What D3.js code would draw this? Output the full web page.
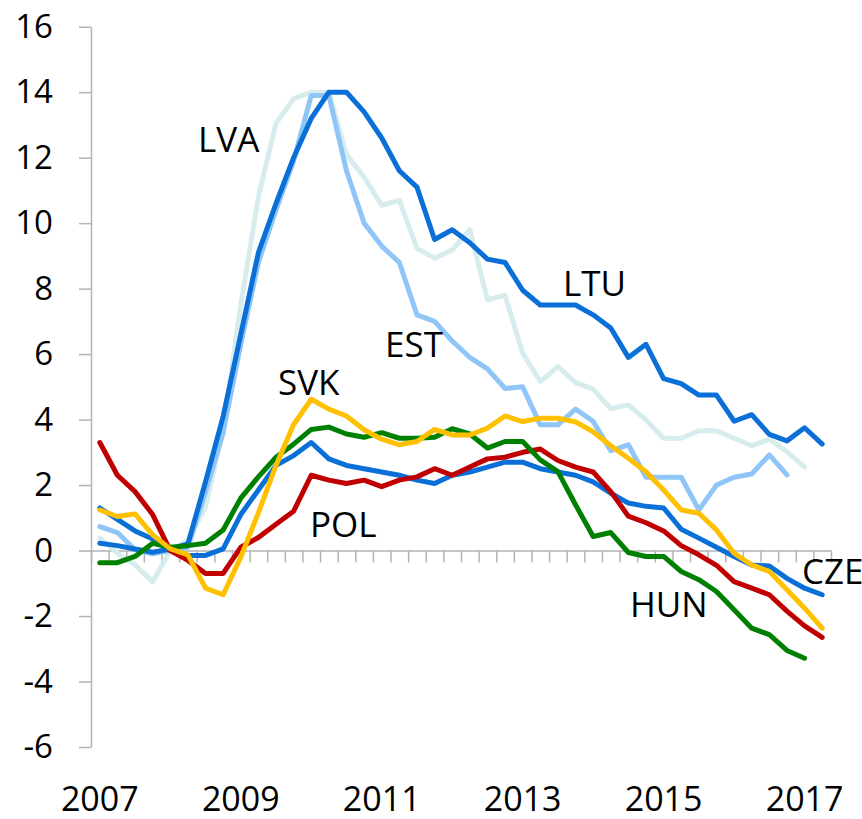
<!DOCTYPE html>
<html>
<head>
<meta charset="utf-8">
<script src="https://cdn.jsdelivr.net/npm/d3@7"></script>
<style>
  html, body { margin: 0; padding: 0; background: #ffffff; }
  svg { display: block; }
  text { font-family: "Open Sans", "Noto Sans", sans-serif; fill: #000; }
</style>
</head>
<body>
<svg id="chart" width="862" height="819"></svg>
<script>
// ---- data ----
const years = [2007, 2008, 2009, 2010, 2011, 2012, 2013, 2014, 2015, 2016, 2017];
const quarters = [];
years.forEach(y => ["Q1", "Q2", "Q3", "Q4"].forEach(q => quarters.push(y + q)));
quarters.length = 42; // 2007Q1 .. 2017Q2

const xTickLabels = ["2007", "2009", "2011", "2013", "2015", "2017"];
const yTicks = [-6, -4, -2, 0, 2, 4, 6, 8, 10, 12, 14, 16];

const LVA = [0.38, -0.08, -0.44, -0.95, 0.0, 0.3, 1.34, 3.7, 7.5, 10.8, 13.05, 13.8, 14.0, 14.0, 12.1, 11.4, 10.55, 10.7, 9.23, 8.93, 9.18, 9.8, 7.66, 7.8, 6.03, 5.16, 5.62, 5.13, 4.93, 4.33, 4.45, 3.99, 3.43, 3.43, 3.66, 3.66, 3.43, 3.2, 3.4, 3.02, 2.55, null];
const EST = [0.73, 0.55, 0.02, -0.1, 0.0, 0.1, 1.8, 3.6, 6.3, 8.8, 10.4, 11.9, 13.9, 13.9, 11.6, 10.0, 9.3, 8.8, 7.2, 7.0, 6.4, 5.9, 5.55, 4.95, 5.0, 3.84, 3.84, 4.32, 3.95, 3.05, 3.23, 2.24, 2.24, 2.24, 1.24, 2.0, 2.24, 2.34, 2.92, 2.31, null, null];
const LTU = [0.22, 0.15, 0.05, -0.05, 0.05, 0.2, 2.1, 4.1, 6.6, 9.1, 10.6, 12.0, 13.2, 14.0, 14.0, 13.4, 12.6, 11.6, 11.1, 9.5, 9.8, 9.4, 8.9, 8.8, 7.95, 7.5, 7.5, 7.5, 7.2, 6.8, 5.9, 6.3, 5.25, 5.1, 4.75, 4.75, 3.95, 4.15, 3.55, 3.35, 3.75, 3.25];
const CZE = [1.3, 0.95, 0.6, 0.35, 0.0, -0.15, -0.15, 0.05, 1.1, 1.85, 2.6, 2.9, 3.3, 2.8, 2.6, 2.5, 2.4, 2.3, 2.15, 2.05, 2.3, 2.4, 2.55, 2.7, 2.7, 2.5, 2.4, 2.3, 2.1, 1.75, 1.45, 1.35, 1.3, 0.65, 0.38, 0.1, -0.18, -0.44, -0.47, -0.85, -1.15, -1.35];
const POL = [3.3, 2.3, 1.8, 1.1, 0.0, -0.3, -0.7, -0.7, 0.1, 0.4, 0.8, 1.2, 2.3, 2.15, 2.05, 2.15, 1.95, 2.15, 2.25, 2.5, 2.3, 2.55, 2.8, 2.85, 3.0, 3.1, 2.75, 2.55, 2.4, 1.8, 1.05, 0.85, 0.6, 0.15, -0.13, -0.45, -0.95, -1.15, -1.35, -1.85, -2.3, -2.65];
const HUN = [-0.37, -0.37, -0.18, 0.22, 0.1, 0.15, 0.22, 0.63, 1.6, 2.25, 2.85, 3.25, 3.7, 3.77, 3.56, 3.46, 3.6, 3.43, 3.43, 3.46, 3.72, 3.56, 3.13, 3.33, 3.33, 2.77, 2.41, 1.4, 0.43, 0.55, -0.06, -0.18, -0.18, -0.64, -0.89, -1.25, -1.81, -2.37, -2.57, -3.05, -3.29, null];
const SVK = [1.24, 1.04, 1.12, 0.48, 0.05, -0.13, -1.15, -1.35, -0.2, 1.15, 2.6, 3.85, 4.62, 4.32, 4.11, 3.69, 3.4, 3.23, 3.33, 3.7, 3.53, 3.53, 3.74, 4.11, 3.94, 4.04, 4.04, 3.93, 3.63, 3.2, 2.82, 2.41, 1.85, 1.24, 1.14, 0.63, -0.08, -0.44, -0.64, -1.2, -1.76, -2.37];

const seriesNames = ["LVA", "EST", "LTU", "CZE", "POL", "HUN", "SVK"];
const seriesValues = [LVA, EST, LTU, CZE, POL, HUN, SVK];
const seriesColors = ["#d7ecec", "#8fc6f7", "#0a70d8", "#0a70d8", "#c00000", "#008000", "#ffc000"];

// label positions (left x, baseline y) in pixels
const labelPos = {
  LVA: [198, 152], LTU: [563, 296], EST: [385, 357], SVK: [278, 395],
  POL: [310, 537], HUN: [630, 617], CZE: [802, 584]
};

// ---- chart ----
const svg = d3.select("#chart");
const plotLeft = 91, plotRight = 831, plotTop = 26.7, plotBottom = 747;

const x = d3.scaleBand().domain(quarters).range([plotLeft, plotRight]).padding(0);
const xb = d3.scaleLinear().domain([0, quarters.length]).range([plotLeft, plotRight]);
const y = d3.scaleLinear().domain([-6, 16]).range([plotBottom, plotTop]);
const cx = q => x(q) + x.bandwidth() / 2;

const axisColor = "#b3b3b3";

// y axis
const gy = svg.append("g")
  .attr("transform", `translate(${plotLeft},0)`)
  .call(d3.axisLeft(y).tickValues(yTicks).tickSizeInner(12).tickSizeOuter(0).tickPadding(26)
    .tickFormat(d => String(d)));
gy.select(".domain").attr("stroke", axisColor).attr("stroke-width", 1.5);
gy.selectAll(".tick line").attr("stroke", axisColor).attr("stroke-width", 1.5);
gy.selectAll(".tick text")
  .style("font-family", '"Open Sans", "Noto Sans", sans-serif')
  .style("font-size", "33px").attr("fill", "#000");

// x axis at zero with quarter ticks
const gx = svg.append("g")
  .attr("transform", `translate(0,${y(0)})`)
  .call(d3.axisBottom(xb).tickValues(d3.range(0, quarters.length + 1)).tickSizeInner(12).tickSizeOuter(0).tickFormat(""));
gx.select(".domain").attr("stroke", axisColor).attr("stroke-width", 1.5);
gx.selectAll(".tick line").attr("stroke", axisColor).attr("stroke-width", 1.5);

// year labels
svg.append("g").selectAll("text")
  .data(xTickLabels)
  .join("text")
  .attr("x", d => cx(d + "Q1"))
  .attr("y", 811)
  .attr("text-anchor", "middle")
  .style("font-size", "34px")
  .text(d => d);

// lines
const line = d3.line()
  .defined(d => d.v !== null)
  .x(d => cx(d.q))
  .y(d => y(d.v));

seriesNames.forEach((name, k) => {
  const data = quarters.map((q, i) => ({ q, v: seriesValues[k][i] }));
  svg.append("path")
    .datum(data)
    .attr("fill", "none")
    .attr("stroke", seriesColors[k])
    .attr("stroke-width", 5)
    .attr("stroke-linejoin", "round")
    .attr("stroke-linecap", "round")
    .attr("d", line);
});

// series labels
svg.append("g").selectAll("text")
  .data(seriesNames)
  .join("text")
  .attr("x", d => labelPos[d][0])
  .attr("y", d => labelPos[d][1])
  .style("font-size", "35px")
  .text(d => d);
</script>
</body>
</html>
